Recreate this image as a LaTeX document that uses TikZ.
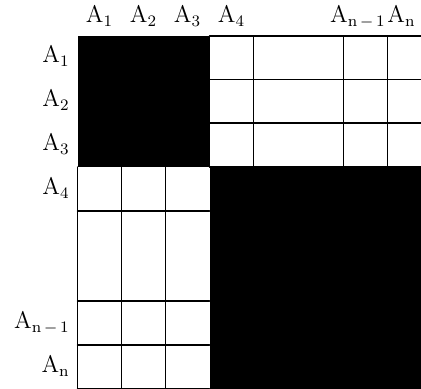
\documentclass[tikz,border=0pt]{standalone}
\begin{document}
\begin{tikzpicture}[x=0.5pt,y=-0.5pt, line join=round, line cap=round,
        cell/.style={line width=0.7pt},
        lbl/.style={inner sep=0pt, font=\fontsize{11.5}{13}\selectfont}]
    \useasboundingbox (0,0) rectangle (421,389);
    \begin{scope}
        \clip (0,0) rectangle (421,389);
        \fill[black] (77.5,36) rectangle (209.5,167);
        \fill[black] (209.5,167) rectangle (432,392);
        \foreach \y in {36,79.5,123,167} \draw[cell] (209.5,\y)--(432,\y);
        \foreach \x in {253.5,343.5,387.5} \draw[cell] (\x,36)--(\x,167);
        \foreach \y in {211,301,345,389} \draw[cell] (77.5,\y)--(209.5,\y);
        \foreach \x in {77.5,121.5,165.5} \draw[cell] (\x,167)--(\x,389);
    \end{scope}
    % column labels
    \foreach \x/\i in {99.5/1,143.5/2,187.5/3,231.5/4}
        \node[lbl,anchor=base] (c\i) at (\x,23) {$\mathrm{A}_{\i}$};
    \node[lbl,anchor=base east] (cm) at (386,23) {$\mathrm{A}_{\mathrm{n}\,-\,1}$};
    \node[lbl,anchor=base west] (cn) at (387,23) {$\mathrm{A}_{\mathrm{n}}$};
    % row labels
    \foreach \y/\i in {63/1,107/2,150.5/3,194.5/4}
        \node[lbl,anchor=base east] (r\i) at (70,\y) {$\mathrm{A}_{\i}$};
    \node[lbl,anchor=base east] (rm) at (70,328.5) {$\mathrm{A}_{\mathrm{n}\,-\,1}$};
    \node[lbl,anchor=base east] (rn) at (70,372.5) {$\mathrm{A}_{\mathrm{n}}$};
\end{tikzpicture}
\end{document}
